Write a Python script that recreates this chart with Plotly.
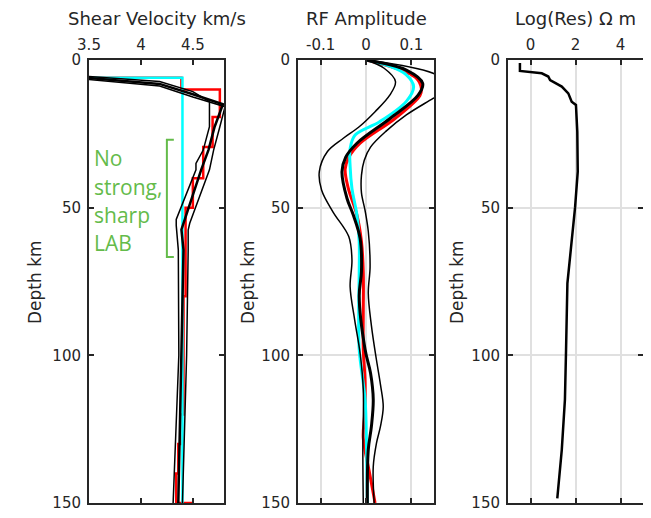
import plotly.graph_objects as go

# ---------------- Panel 1: shear velocity ----------------
vs_red_depth = [0, 6, 6, 10, 10, 19.3, 19.3, 29.5, 29.5, 40, 40, 50, 50, 80, 80, 120, 120, 130, 130, 140, 140, 150, 150]
vs_red = [3.2, 3.2, 4.39, 4.39, 4.76, 4.76, 4.69, 4.69, 4.60, 4.60, 4.50, 4.50, 4.43, 4.43, 4.41, 4.41, 4.38, 4.38, 4.36, 4.36, 4.34, 4.34, 4.50]

vs_cyan_depth = [0, 6, 6, 150]
vs_cyan = [3.2, 3.2, 4.40, 4.40]

vs_lo_depth = [0, 4.8, 5.6, 7.3, 10.7, 14.1, 22.6, 30.5, 35, 37.2, 54, 56, 64.3, 100, 150]
vs_lo = [3.0, 3.0, 3.5, 4.18, 4.50, 4.66, 4.66, 4.60, 4.53, 4.53, 4.34, 4.34, 4.36, 4.365, 4.31]

vs_mid_depth = [0, 5.3, 6.1, 8.1, 11.6, 15.0, 22.6, 30.5, 37.2, 54.6, 57.4, 64.3, 100, 150]
vs_mid = [3.0, 3.0, 3.5, 4.18, 4.50, 4.79, 4.71, 4.65, 4.58, 4.41, 4.39, 4.41, 4.39, 4.36]

vs_hi_depth = [0, 5.8, 6.6, 8.8, 12.5, 15.8, 22.6, 30.5, 37.2, 55.3, 57.6, 64.3, 100, 150]
vs_hi = [3.0, 3.0, 3.5, 4.18, 4.50, 4.81, 4.76, 4.70, 4.66, 4.47, 4.455, 4.455, 4.44, 4.40]

# ---------------- Panel 2: RF amplitude ----------------
rf_red_depth = [0, 3, 6, 9.5, 12, 19.8, 28.2, 33, 37, 43.5, 52.5, 61.5, 72, 85, 98, 109, 120, 128, 140, 150]
rf_red = [0, 0.07, 0.11, 0.122, 0.119, 0.064, -0.013, -0.038, -0.046, -0.039, -0.02, -0.01, -0.006, -0.006, -0.006, -0.002, -0.003, -0.006, 0.008, 0.02]

rf_cyan_depth = [0, 2, 5, 9, 14, 20.9, 25.4, 30, 36, 43.5, 52.5, 61.5, 72, 85, 98, 115, 130, 150]
rf_cyan = [0, 0.05, 0.089, 0.105, 0.089, 0.03, -0.024, -0.035, -0.035, -0.031, -0.02, -0.015, -0.015, -0.016, -0.015, -0.002, 0.001, 0.003]

rf_mid_depth = [0, 3.4, 7.9, 11.9, 19.8, 28.2, 33, 37.8, 46.8, 52.5, 60.4, 71.6, 80, 98, 106, 115, 124, 132, 150]
rf_mid = [0, 0.089, 0.125, 0.115, 0.053, -0.02, -0.045, -0.053, -0.042, -0.028, -0.013, -0.01, -0.015, -0.002, 0.01, 0.016, 0.012, 0.005, 0.003]

rf_lo_depth = [0, 2.8, 7.3, 12, 17.5, 22.6, 26.5, 31, 37.8, 44, 51.4, 59.8, 67.7, 76.8, 88, 99.3, 111.7, 132, 150]
rf_lo = [0, 0.040, 0.065, 0.052, 0.020, -0.015, -0.050, -0.085, -0.103, -0.098, -0.073, -0.038, -0.031, -0.035, -0.025, -0.013, -0.006, -0.007, -0.006]

rf_hi_depth = [0, 4.5, 9, 13, 18.6, 24, 29.5, 34, 39, 45, 51, 58, 70, 79, 90, 101.5, 110, 117.4, 124, 129.8, 137.7, 150]
rf_hi = [0, 0.148, 0.19, 0.148, 0.089, 0.045, 0.01, -0.004, -0.01, -0.01, -0.002, 0.005, 0.009, 0.005, 0.012, 0.023, 0.032, 0.038, 0.032, 0.023, 0.016, 0.018]

# ---------------- Panel 3: log resistivity ----------------
res_depth = [1.0, 3.7, 4.5, 5.6, 6.8, 9, 11.3, 14.1, 15.2, 24.3, 37.8, 50, 64.3, 75.6, 98.2, 115, 132, 148.4]
res_log = [-0.47, -0.47, 0.5, 0.79, 0.87, 1.39, 1.68, 1.83, 2.02, 2.08, 2.1, 1.98, 1.79, 1.64, 1.58, 1.53, 1.39, 1.19]

depth_ticks = [0, 50, 100, 150]
vs_ticks = [3.5, 4, 4.5]
vs_ticklabels = ["3.5", "4", "4.5"]
rf_ticks = [-0.1, 0, 0.1]
rf_ticklabels = ["-0.1", "0", "0.1"]
res_ticks = [0, 2, 4]
res_ticklabels = ["0", "2", "4"]
annotation_lines = ["No", "strong,", "sharp", "LAB"]

RED = "#ff0000"
CYAN = "#00ffff"
BLACK = "#000000"
GREEN = "#64bb4a"
AX = "#262626"
GRID = "#e0e0e0"
FONT = "DejaVu Sans, Liberation Sans, Arial"

OFF = 8                      # default page margin of the browser
W, H = 651 - OFF, 518 - OFF  # figure size
TOP, BOT = 60 - OFF, 503 - OFF

def px(x):
    return (x - OFF) / W

def py(y):
    return (BOT - (y - OFF)) / (BOT - TOP)

fig = go.Figure()

def add(x, y, color, width, xa, ya, shape="linear"):
    fig.add_trace(go.Scatter(x=x, y=y, mode="lines", xaxis=xa, yaxis=ya,
                             line=dict(color=color, width=width, shape=shape),
                             showlegend=False, hoverinfo="skip"))

# panel 1
add(vs_red, vs_red_depth, RED, 2.5, "x", "y")
add(vs_cyan, vs_cyan_depth, CYAN, 2.5, "x", "y")
add(vs_lo, vs_lo_depth, BLACK, 1.5, "x", "y")
add(vs_hi, vs_hi_depth, BLACK, 1.5, "x", "y")
add(vs_mid, vs_mid_depth, BLACK, 2.5, "x", "y")

# panel 2
add(rf_red, rf_red_depth, RED, 3, "x2", "y2", "spline")
add(rf_cyan, rf_cyan_depth, CYAN, 3, "x2", "y2", "spline")
add(rf_lo, rf_lo_depth, BLACK, 1.5, "x2", "y2", "spline")
add(rf_hi, rf_hi_depth, BLACK, 1.5, "x2", "y2", "spline")
add(rf_mid, rf_mid_depth, BLACK, 3, "x2", "y2", "spline")

# panel 3
add(res_log, res_depth, BLACK, 2.5, "x3", "y3")

domains = [(89, 224), (298, 434), (508, 643)]
xranges = [[3.5, 4.8], [-0.15, 0.15], [-1, 5]]
xticks = [(vs_ticks, vs_ticklabels), (rf_ticks, rf_ticklabels), (res_ticks, res_ticklabels)]
grids = [False, True, True]
titles = ["Shear Velocity km/s", "RF Amplitude", "Log(Res) \u03a9 m"]
ytitle_x = [35, 248, 457]

axcommon = dict(showline=True, linecolor=AX, linewidth=2, mirror="ticks",
                ticks="inside", ticklen=5, tickwidth=2, tickcolor=AX,
                zeroline=False, tickfont=dict(family=FONT, size=15, color=AX),
                gridcolor=GRID, gridwidth=2, automargin=False)

layout = dict(width=W, height=H, margin=dict(l=0, r=0, t=TOP, b=H - BOT, autoexpand=False),
              plot_bgcolor="white", paper_bgcolor="white", showlegend=False)

annotations = []
for i, ((a, b), xr, (tv, tt), g, ttl) in enumerate(zip(domains, xranges, xticks, grids, titles)):
    sfx = "" if i == 0 else str(i + 1)
    layout["xaxis" + sfx] = dict(axcommon, domain=[px(a), px(b)], range=xr, side="top",
                                 tickvals=tv, ticktext=tt, showgrid=g,
                                 anchor="y" + sfx, ticklabelstandoff=2)
    layout["yaxis" + sfx] = dict(axcommon, domain=[0, 1], range=[150, 0],
                                 tickvals=depth_ticks, showgrid=g,
                                 anchor="x" + sfx, ticklabelstandoff=3)
    annotations.append(dict(text=ttl, xref="paper", yref="paper",
                            x=px((a + b) / 2), y=py(18),
                            xanchor="center", yanchor="middle", showarrow=False,
                            font=dict(family=FONT, size=18, color=AX)))
    annotations.append(dict(text="Depth km", xref="paper", yref="paper",
                            x=px(ytitle_x[i]), y=py(282), textangle=-90,
                            xanchor="center", yanchor="middle", showarrow=False,
                            font=dict(family=FONT, size=17, color=AX)))

for line_text, yc in zip(annotation_lines, [158, 187, 215, 243]):
    annotations.append(dict(text=line_text, xref="paper", yref="paper",
                            x=px(92), y=py(yc), xanchor="left", yanchor="middle",
                            showarrow=False,
                            font=dict(family="Open Sans", size=21, color=GREEN)))

layout["annotations"] = annotations
layout["shapes"] = [dict(type="path", xref="x", yref="y",
                         path="M 4.317,27 L 4.25,27 L 4.25,66.7 L 4.317,66.7",
                         line=dict(color=GREEN, width=2))]

fig.update_layout(**layout)
fig.write_html("out.html")
